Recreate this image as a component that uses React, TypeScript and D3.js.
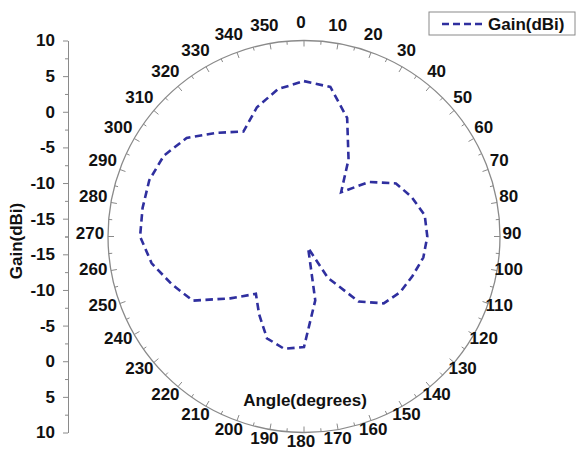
import React, { useEffect, useRef } from "react";
import * as d3 from "d3";

// measured gain pattern, one sample every 10 degrees
const angles = [
  0, 10, 20, 30, 40, 50, 60, 70, 80, 90, 100, 110, 120, 130, 140, 150, 160, 170,
  180, 190, 200, 210, 220, 230, 240, 250, 260, 270, 280, 290, 300, 310, 320, 330,
  340, 350,
];
const gain = [
  4.3, 3.8, 0.2, -5.0, -9.4, -5.6, -2.6, -1.4, -0.3, -0.2, -0.5, -1.3, -1.9, -2.9,
  -5.6, -10.8, -15.8, -8.4, -2.0, -1.5, -2.3, -4.9, -7.0, -4.0, 0.5, 2.2, 4.2, 5.5,
  5.5, 5.6, 5.2, 4.0, 1.5, -0.5, 1.8, 3.5,
];
const angleTicks = d3.range(0, 360, 10);
const angleMinor = d3.range(5, 360, 10);
const gainTicks = [-15, -10, -5, 0, 5, 10];
const gainMinor = [-17.5, -12.5, -7.5, -2.5, 2.5, 7.5];
const seriesName = "Gain(dBi)";

const App = () => {
  const svgRef = useRef<SVGSVGElement>(null);

  useEffect(() => {
    const w = 576;
    const h = 452;
    const cx = 304;
    const cy = 236.5;
    const R = 196;
    const font = "'Liberation Sans', Arial, sans-serif";
    const blue = "#2f2f9f";
    const grey = "#8a8a8a";

    const svg = d3.select(svgRef.current).attr("width", w).attr("height", h);
    svg.selectAll("*").remove();

    const rScale = d3.scaleLinear().domain([-17.5, 10]).range([0, R]);
    const rad = (a: number) => (a * Math.PI) / 180;

    const g = svg.append("g").attr("transform", `translate(${cx},${cy})`);

    // outer circle
    g.append("circle").attr("r", R).attr("fill", "none").attr("stroke", grey).attr("stroke-width", 1.3);

    // angular ticks pointing inward
    const ticks = [
      ...angleTicks.map((a) => ({ a, len: 6 })),
      ...angleMinor.map((a) => ({ a, len: 3.5 })),
    ];
    g.selectAll(".atick")
      .data(ticks)
      .enter()
      .append("line")
      .attr("x1", (d) => R * Math.sin(rad(d.a)))
      .attr("y1", (d) => -R * Math.cos(rad(d.a)))
      .attr("x2", (d) => (R - d.len) * Math.sin(rad(d.a)))
      .attr("y2", (d) => -(R - d.len) * Math.cos(rad(d.a)))
      .attr("stroke", grey)
      .attr("stroke-width", 1);

    // angular labels (bottom ones nudged up so they stay on the page)
    const lr = 211;
    g.selectAll(".alabel")
      .data(angleTicks)
      .enter()
      .append("text")
      .attr("x", (d) => lr * Math.sin(rad(d)) - 3)
      .attr("y", (d) => -lr * Math.cos(rad(d)) - 4 - 3 * Math.pow(Math.max(0, -Math.cos(rad(d))), 6))
      .attr("dy", "0.36em")
      .attr("text-anchor", "middle")
      .style("font-family", font)
      .style("font-weight", "bold")
      .style("font-size", "17px")
      .style("fill", "#111")
      .text((d) => d);

    // gain pattern
    const pts: [number, number][] = angles.map((a, i) => [rad(a), rScale(gain[i])]);
    const line = d3.lineRadial().curve(d3.curveLinearClosed);
    g.append("path")
      .attr("d", line(pts))
      .attr("fill", "none")
      .attr("stroke", blue)
      .attr("stroke-width", 2.6)
      .attr("stroke-dasharray", "7.5,4.5");

    // mirrored gain axis on the left
    const axX = 68;
    const up = d3.scaleLinear().domain([-17.5, 10]).range([cy, cy - R]);
    const down = d3.scaleLinear().domain([-17.5, 10]).range([cy, cy + R]);
    [up, down].forEach((s) => {
      const major = svg
        .append("g")
        .attr("transform", `translate(${axX},0)`)
        .call(
          d3
            .axisLeft(s)
            .tickValues(gainTicks)
            .tickFormat((d) => String(d))
            .tickSize(5)
            .tickPadding(8)
            .tickSizeOuter(0)
        );
      major.select(".domain").attr("stroke", grey);
      major.selectAll(".tick line").attr("stroke", grey);
      major
        .selectAll(".tick text")
        .style("font-family", font)
        .style("font-weight", "bold")
        .style("font-size", "17px")
        .style("fill", "#111");
      const minor = svg
        .append("g")
        .attr("transform", `translate(${axX},0)`)
        .call(d3.axisLeft(s).tickValues(gainMinor).tickSize(3).tickFormat(() => "").tickSizeOuter(0));
      minor.select(".domain").remove();
      minor.selectAll(".tick line").attr("stroke", grey);
    });

    // axis titles
    svg
      .append("text")
      .attr("transform", `translate(22,241) rotate(-90)`)
      .attr("text-anchor", "middle")
      .style("font-family", font)
      .style("font-weight", "bold")
      .style("font-size", "17px")
      .style("fill", "#111")
      .text("Gain(dBi)");
    svg
      .append("text")
      .attr("x", 305)
      .attr("y", 406)
      .attr("text-anchor", "middle")
      .style("font-family", font)
      .style("font-weight", "bold")
      .style("font-size", "17px")
      .style("fill", "#111")
      .text("Angle(degrees)");

    // legend
    const lg = svg.append("g").attr("transform", "translate(429,12)");
    lg.append("rect").attr("width", 146).attr("height", 23).attr("fill", "#fff").attr("stroke", grey);
    lg.append("line")
      .attr("x1", 13)
      .attr("x2", 55)
      .attr("y1", 12)
      .attr("y2", 12)
      .attr("stroke", blue)
      .attr("stroke-width", 2.6)
      .attr("stroke-dasharray", "7,4");
    lg.append("text")
      .attr("x", 59)
      .attr("y", 18)
      .style("font-family", font)
      .style("font-weight", "bold")
      .style("font-size", "17px")
      .style("fill", "#111")
      .text(seriesName);
  }, []);

  return (
    <div style={{ position: "absolute", left: 0, top: 0 }}>
      <svg ref={svgRef}></svg>
    </div>
  );
};

export default App;
